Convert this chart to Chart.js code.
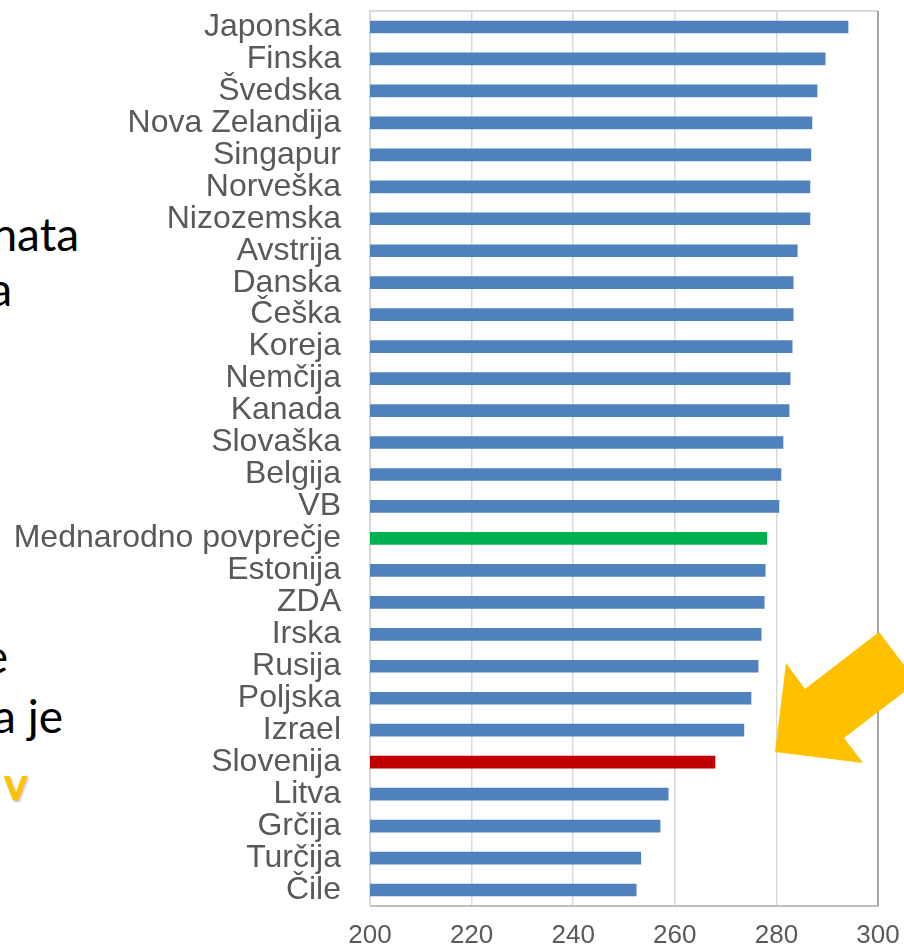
<!DOCTYPE html>
<html>
<head>
<meta charset="utf-8">
<script src="https://cdn.jsdelivr.net/npm/chart.js@4.4.1/dist/chart.umd.min.js"></script>
<style>
    body { margin: 0; background: #fff; overflow: hidden; }
    #wrap { position: relative; width: 904px; height: 947px; overflow: hidden; }
    #scoreChart { position: absolute; left: 0; top: 0; }
    .slide-text {
        position: absolute;
        white-space: nowrap;
        font-family: Lato, "Open Sans", sans-serif;
        font-size: 46px;
        line-height: 46px;
        color: #000;
        text-align: right;
    }
    .slide-text.accent { color: #FFC000; font-weight: bold; text-shadow: 1px 2px 2px rgba(0,0,0,0.25); }
</style>
</head>
<body>
<div id="wrap">
    <!-- cut-off slide text on the left -->
    <div class="slide-text" style="right: 825px; top: 211px;">nata</div>
    <div class="slide-text" style="right: 892px; top: 266px;">a</div>
    <div class="slide-text" style="right: 896px; top: 633px;">e</div>
    <div class="slide-text" style="right: 841px; top: 693px;">a je</div>
    <div class="slide-text accent" style="right: 876px; top: 760px;">v</div>
    <canvas id="scoreChart" width="904" height="947"></canvas>
</div>
<script>
// Countries, top to bottom
const countries = [
    'Japonska', 'Finska', 'Švedska', 'Nova Zelandija', 'Singapur', 'Norveška',
    'Nizozemska', 'Avstrija', 'Danska', 'Češka', 'Koreja', 'Nemčija', 'Kanada',
    'Slovaška', 'Belgija', 'VB', 'Mednarodno povprečje', 'Estonija', 'ZDA',
    'Irska', 'Rusija', 'Poljska', 'Izrael', 'Slovenija', 'Litva', 'Grčija',
    'Turčija', 'Čile'
];
const scores = [
    294.1, 289.6, 288.0, 287.0, 286.8, 286.6,
    286.6, 284.1, 283.3, 283.3, 283.1, 282.7, 282.5,
    281.3, 280.9, 280.5, 278.1, 277.8, 277.6,
    277.0, 276.4, 275.0, 273.6, 267.9, 258.7, 257.1,
    253.3, 252.4
];
const xTicks = [200, 220, 240, 260, 280, 300];

const barColors = countries.map(function(c) {
    if (c === 'Mednarodno povprečje') return '#00B050';
    if (c === 'Slovenija') return '#C00000';
    return '#4F81BD';
});

// frame on top/right of the plot and the yellow arrow
const extras = {
    id: 'extras',
    afterDraw: function(chart) {
        const ctx = chart.ctx;
        const a = chart.chartArea;
        ctx.save();
        ctx.strokeStyle = '#d9d9d9';
        ctx.lineWidth = 2;
        ctx.beginPath();
        ctx.moveTo(a.left, a.top);
        ctx.lineTo(a.right, a.top);
        ctx.stroke();
        ctx.strokeStyle = '#a6a6a6';
        ctx.beginPath();
        ctx.moveTo(a.right, a.top);
        ctx.lineTo(a.right, a.bottom);
        ctx.stroke();

        ctx.fillStyle = '#FFC000';
        ctx.beginPath();
        ctx.moveTo(775, 752);
        ctx.lineTo(786, 663);
        ctx.lineTo(805, 689);
        ctx.lineTo(879, 632);
        ctx.lineTo(904, 665);
        ctx.lineTo(904, 692);
        ctx.lineTo(844, 738);
        ctx.lineTo(863, 763);
        ctx.closePath();
        ctx.fill();
        ctx.restore();
    }
};

const ctx = document.getElementById('scoreChart').getContext('2d');
new Chart(ctx, {
    type: 'bar',
    data: {
        labels: countries,
        datasets: [{
            data: scores,
            backgroundColor: barColors,
            barThickness: 12
        }]
    },
    options: {
        indexAxis: 'y',
        responsive: false,
        animation: false,
        layout: { padding: { top: 11, right: 26, left: 0, bottom: 0 } },
        plugins: {
            legend: { display: false },
            tooltip: { enabled: false }
        },
        scales: {
            x: {
                min: 200,
                max: 300,
                afterBuildTicks: function(scale) {
                    scale.ticks = xTicks.map(function(v) { return { value: v }; });
                },
                afterFit: function(scale) {
                    scale.height = 41;
                    scale.paddingLeft = 0;
                    scale.paddingRight = 0;
                },
                ticks: {
                    color: '#595959',
                    padding: 14,
                    font: { family: '"Liberation Sans", Arial, sans-serif', size: 26 }
                },
                grid: { color: '#d9d9d9', lineWidth: 1.5, drawTicks: false },
                border: { color: '#bfbfbf', width: 2 }
            },
            y: {
                afterFit: function(scale) {
                    scale.width = 370;
                    scale.paddingTop = 0;
                    scale.paddingBottom = 0;
                },
                ticks: {
                    color: '#595959',
                    padding: 29,
                    autoSkip: false,
                    font: { family: '"Liberation Sans", Arial, sans-serif', size: 32 }
                },
                grid: { display: false, drawTicks: false },
                border: { color: '#d9d9d9', width: 2 }
            }
        }
    },
    plugins: [extras]
});
</script>
</body>
</html>
